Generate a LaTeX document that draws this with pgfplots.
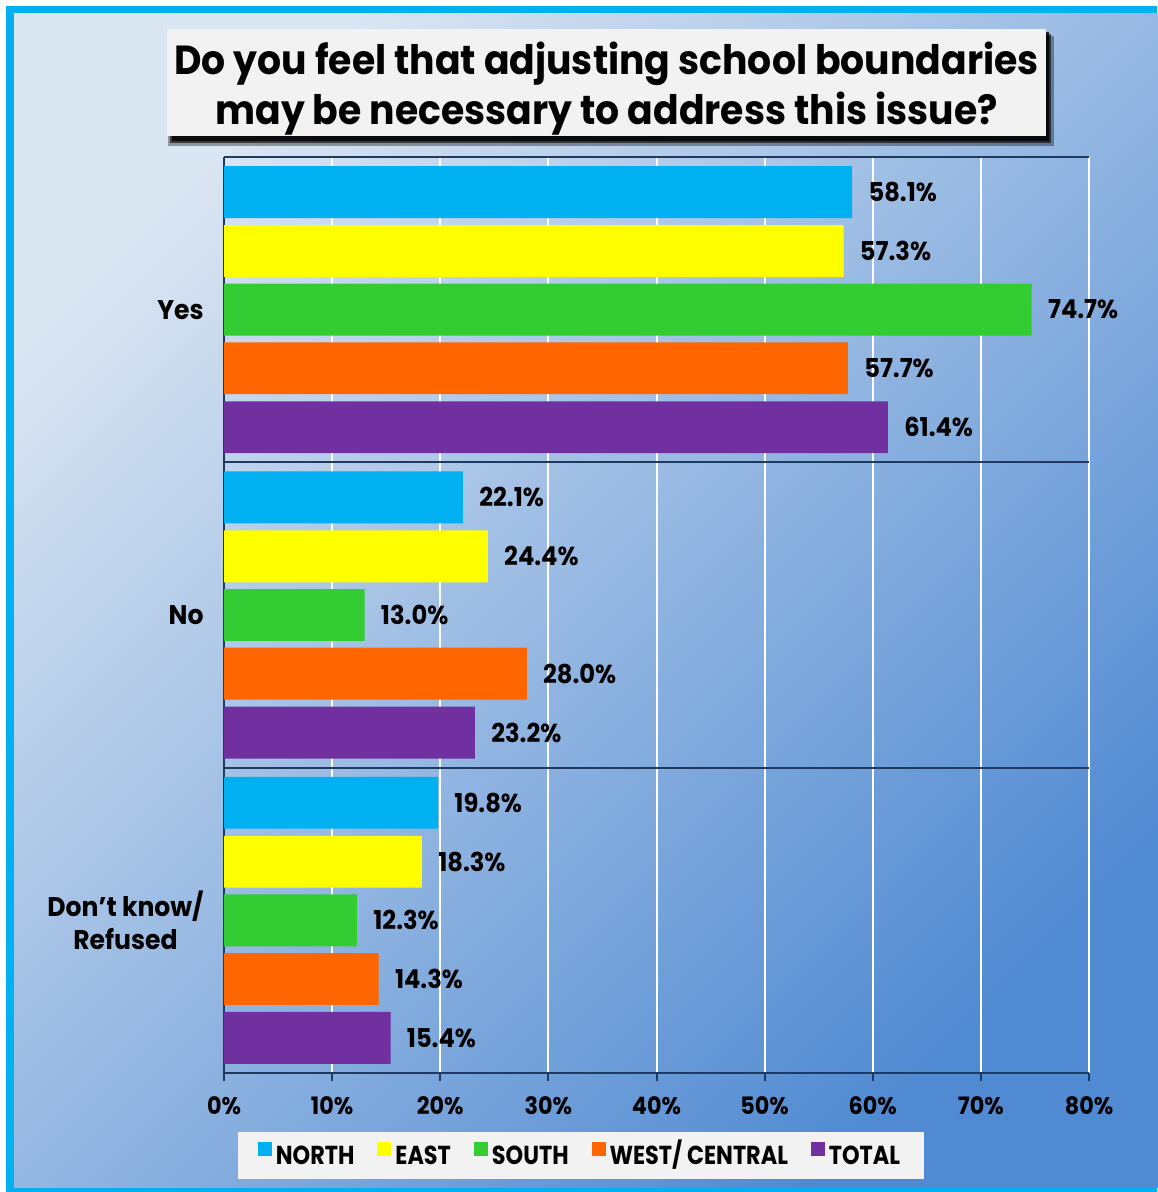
\documentclass[border=0pt]{standalone}
\usepackage{fontspec}
\setmainfont{Poppins}[FakeStretch=0.93]
\newfontfamily\legfont{Poppins}[FakeStretch=0.86]
\usepackage{pgfplots}
\pgfplotsset{compat=1.18}
\definecolor{cN}{HTML}{00B0F0}
\definecolor{cE}{HTML}{FFFF00}
\definecolor{cS}{HTML}{33CC33}
\definecolor{cW}{HTML}{FF6600}
\definecolor{cT}{HTML}{7030A0}
\definecolor{navy}{HTML}{1F3A60}
\definecolor{bgA}{RGB}{218,229,242}
\definecolor{bgB}{RGB}{80,138,210}
\definecolor{boxg}{HTML}{F2F2F2}
\begin{document}
\begin{tikzpicture}[x=0.5pt,y=0.5pt]
\useasboundingbox (0,0) rectangle (1157,1192);
\fill[white] (0,0) rectangle (1157,1192);
\fill[cN] (6,0) rectangle (1157,1186);
\shade[top color=bgA, bottom color=bgB, shading angle=45] (14,4) rectangle (1160,1178);
% title box with shadow
\fill[black, opacity=0.35] (168,1046) rectangle (1054,1156);
\fill[black, opacity=0.6] (170,1049) rectangle (1051,1158);
\fill[black, opacity=0.8] (172,1051) rectangle (1049,1160);
\fill[boxg] (167,1056) rectangle (1046,1163);
\node[align=center, font=\bfseries\fontsize{20.3}{25}\selectfont, inner sep=0pt] at (606.5,1103) {Do you feel that adjusting school boundaries\\may be necessary to address this issue?};
\begin{axis}[
  at={(112pt,59.5pt)}, anchor=south west,
  scale only axis, width=432.5pt, height=458pt,
  xmin=0, xmax=80, ymin=0, ymax=3,
  xbar, bar width=0.17,
  axis lines*=left,
  axis line style={draw=navy, line width=1pt, -},
  tick align=outside,
  major tick length=4pt,
  xtick={0,10,20,30,40,50,60,70,80},
  xticklabels={0\%,10\%,20\%,30\%,40\%,50\%,60\%,70\%,80\%},
  x tick style={draw=navy, line width=1pt},
  xticklabel style={font=\bfseries\fontsize{12}{14}\selectfont, inner sep=0pt, yshift=-7.5pt},
  xmajorgrids, major grid style={white, line width=1pt},
  ytick={0.5,1.5,2.5},
  yticklabels={{Don’t know/\\Refused},No,Yes},
  y tick style={draw=none},
  yticklabel style={font=\bfseries\fontsize{13.5}{16.5}\selectfont, align=center, inner sep=0pt, xshift=-6pt},
  extra y ticks={0,1,2,3},
  extra y tick labels={},
  extra y tick style={ymajorgrids=true, major grid style={navy, line width=1pt}, tick style={draw=navy, line width=1pt}, major tick length=4.5pt},
  /pgf/number format/assume math mode=true,
  point meta=x,
  nodes near coords={\pgfmathprintnumber[fixed,fixed zerofill,precision=1]{\pgfplotspointmeta}\%},
  every node near coord/.append style={font=\bfseries\fontsize{13}{15}\selectfont, inner sep=0pt, xshift=8pt, text=black},
  legend style={at={(0.4127,-0.090)}, anchor=center, fill=boxg, draw=none, legend columns=5,
    font=\legfont\bfseries\fontsize{13}{15}\selectfont, inner xsep=10pt, inner ysep=5pt,
    nodes={text height=9.5pt, text depth=0pt},
    /tikz/every even column/.append style={column sep=9.5pt}},
  legend image code/.code={\fill[#1] (0pt,-0.3pt) rectangle (7pt,6.7pt);},
]
\addplot[fill=cN, draw=none, bar shift=0.385] coordinates {(58.1,2.5) (22.1,1.5) (19.8,0.5)};
\addplot[fill=cE, draw=none, bar shift=0.192] coordinates {(57.3,2.5) (24.4,1.5) (18.3,0.5)};
\addplot[fill=cS, draw=none, bar shift=0] coordinates {(74.7,2.5) (13.0,1.5) (12.3,0.5)};
\addplot[fill=cW, draw=none, bar shift=-0.192] coordinates {(57.7,2.5) (28.0,1.5) (14.3,0.5)};
\addplot[fill=cT, draw=none, bar shift=-0.385] coordinates {(61.4,2.5) (23.2,1.5) (15.4,0.5)};
\legend{NORTH,EAST,SOUTH,WEST/ CENTRAL,TOTAL}
\end{axis}
\end{tikzpicture}
\end{document}
